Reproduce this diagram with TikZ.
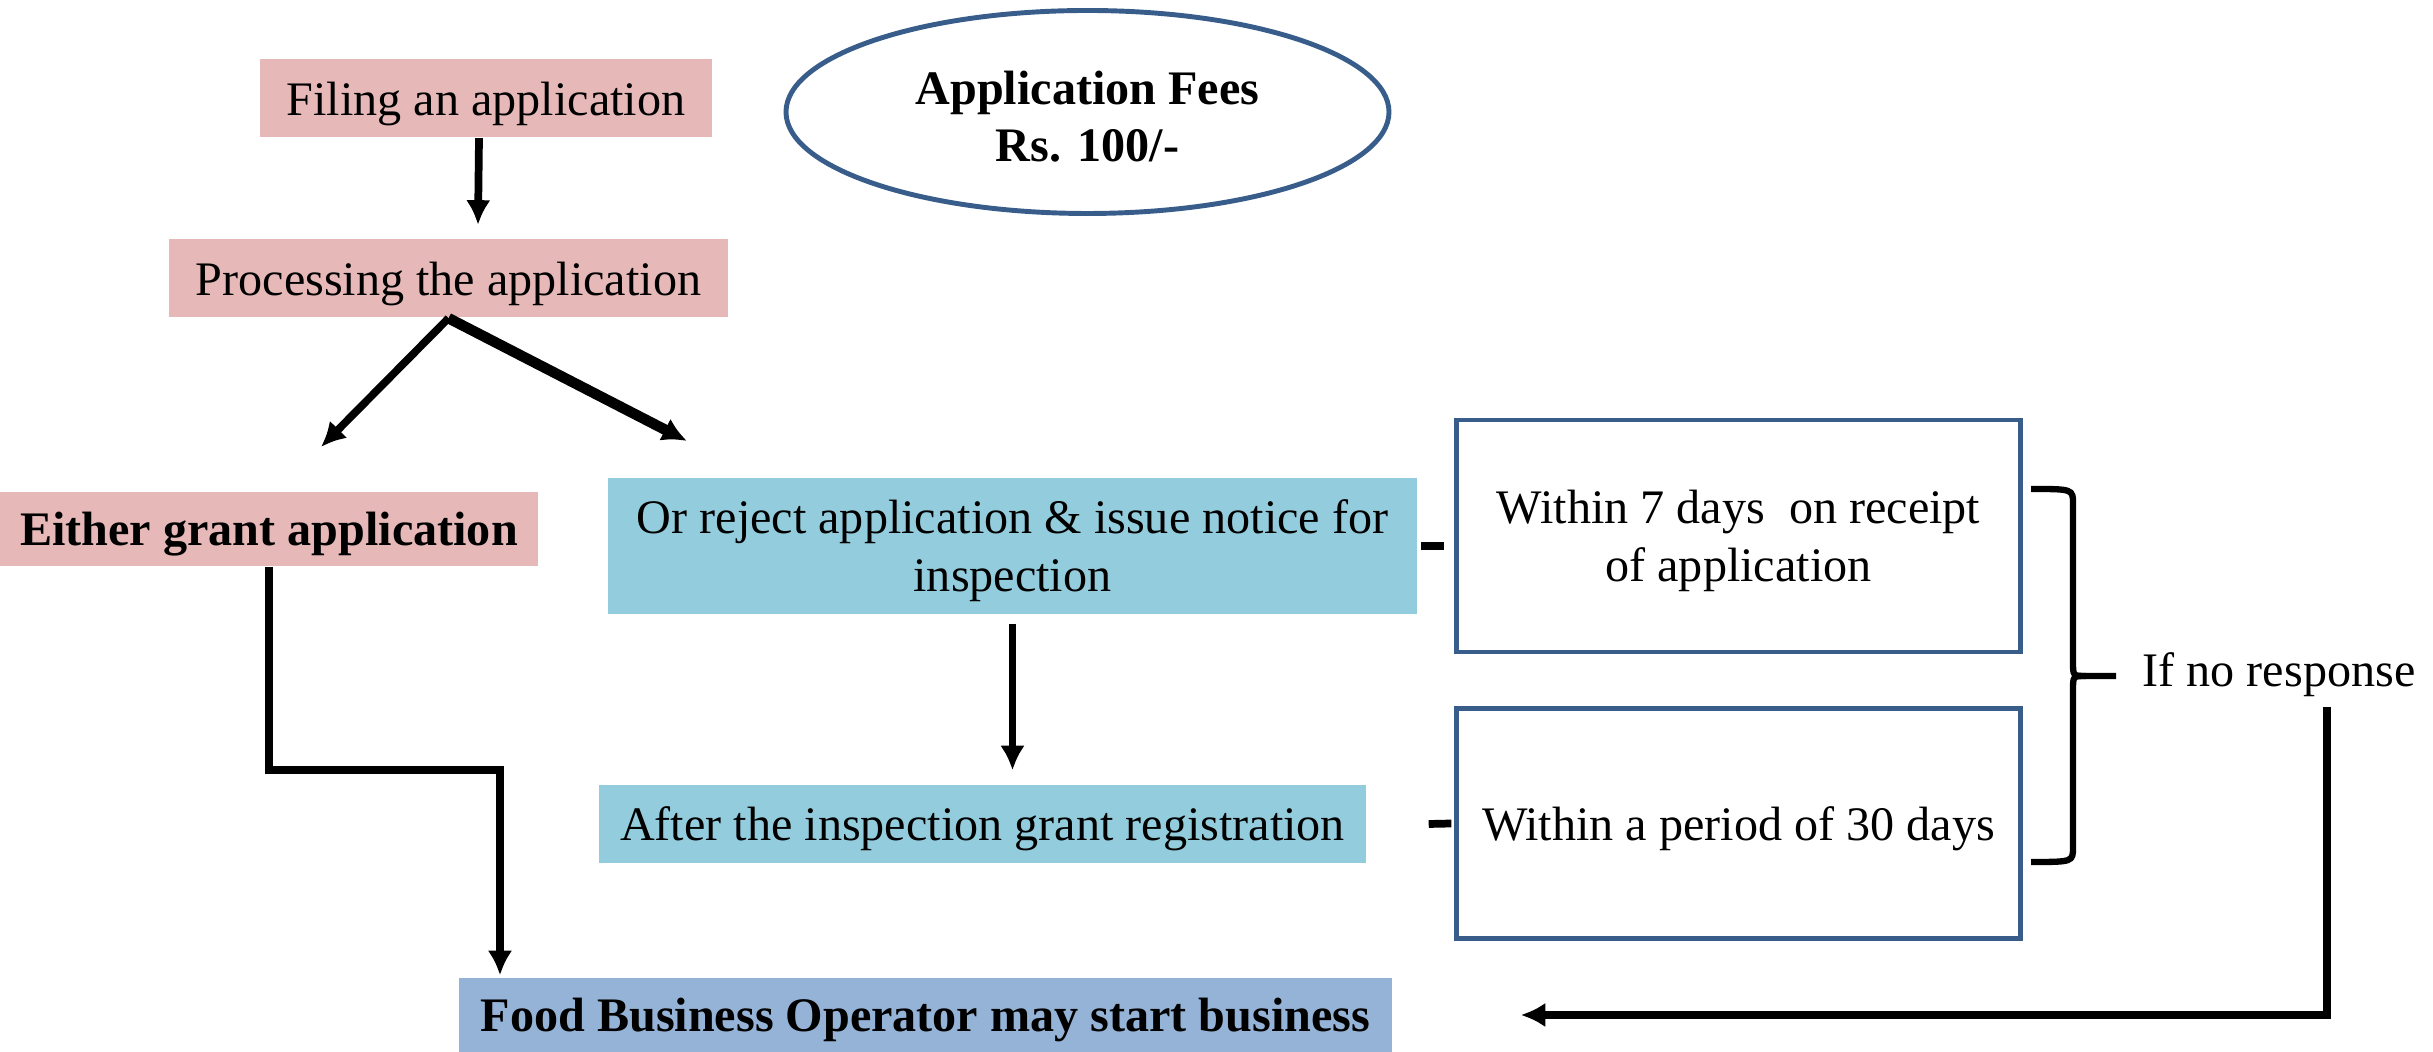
\documentclass[tikz,border=0pt]{standalone}
\usepackage{fontspec}
\setmainfont{Liberation Serif}
\usepackage{tikz}
\usetikzlibrary{arrows,arrows.meta}
\usetikzlibrary{shapes,arrows}
\definecolor{pinkfill}{HTML}{E6B9B8}
\definecolor{tealfill}{HTML}{93CDDD}
\definecolor{bluefill}{HTML}{95B3D7}
\definecolor{edgeblue}{HTML}{385D8A}
\tikzstyle{flow} = [draw, -{Latex[length=7pt,width=7pt]}, line width=2.2pt]
\tikzstyle{tick} = [draw, line width=2.2pt]
\tikzstyle{oneline} = [text height=12.3pt, text depth=2.9pt]
\tikzstyle{pinkbox} = [rectangle, fill=pinkfill, inner sep=0pt]
\tikzstyle{tealbox} = [rectangle, fill=tealfill, inner sep=0pt]
\tikzstyle{foodbox} = [rectangle, fill=bluefill, inner sep=0pt]
\tikzstyle{outbox} = [rectangle, draw=edgeblue, line width=1.2pt, fill=white, inner sep=0pt]
\newcommand{\topstrut}{\rule{0pt}{12.3pt}}

\begin{document}
\begin{tikzpicture}
	\tikzstyle{every node}=[font=\fontsize{13.7}{16.3}\selectfont]
	\useasboundingbox (0,0) rectangle (24.33,-10.52);

	\node[pinkbox, oneline, minimum width=4.52cm, minimum height=0.78cm] (filing) at (4.86,-0.985) {Filing an application};
	\node[ellipse, draw=edgeblue, line width=1.4pt, minimum width=6.03cm, minimum height=2.03cm, align=center] (fees) at (10.875,-1.12) {\topstrut\textbf{Application Fees}\\\textbf{Rs. 100/-}};
	\node[pinkbox, oneline, minimum width=5.59cm, minimum height=0.78cm] (proc) at (4.485,-2.785) {Processing the application};

	\node[pinkbox, oneline, minimum width=5.38cm, minimum height=0.74cm] (grant) at (2.69,-5.29) {\textbf{Either grant application}};
	\node[tealbox, minimum width=8.09cm, minimum height=1.36cm, align=center] (reject) at (10.125,-5.46) {\topstrut Or reject application \& issue notice for\\inspection};
	\node[tealbox, oneline, minimum width=7.67cm, minimum height=0.78cm] (after) at (9.825,-8.24) {After the inspection grant registration};

	\node[outbox, minimum width=5.64cm, minimum height=2.32cm, align=center] (w7) at (17.385,-5.36) {\topstrut Within 7 days\ \ on receipt\\of application};
	\node[outbox, oneline, minimum width=5.64cm, minimum height=2.30cm] (w30) at (17.385,-8.235) {Within a period of 30 days};
	\node (ifno) at (22.79,-6.75) {If no response};

	\node[foodbox, oneline, minimum width=9.33cm, minimum height=0.74cm] (food) at (9.255,-10.15) {\textbf{Food Business Operator may start business}};

	% ------------------- Arrows ------------------- %
	\draw[flow] ([xshift=-0.07cm]filing.south) -- ([xshift=0.295cm,yshift=0.14cm]proc.north);

	\coordinate (tipL) at (3.21,-4.47);
	\coordinate (tipR) at (6.87,-4.41);
	\draw[flow] (proc.south) -- (tipL);
	\draw[flow, line width=3pt] (proc.south) -- (tipR);

	\coordinate (bend) at (5.00,-7.70);
	\draw[flow] (grant.south) |- (bend) -- ([yshift=0.02cm]bend |- food.north);

	\draw[flow] ([yshift=-0.09cm]reject.south) -- ([yshift=0.14cm]reject.south |- after.north);

	\draw[tick] ([xshift=0.03cm]reject.east) -- ([xshift=-0.10cm]reject.east -| w7.west);
	\draw[tick] ([xshift=0.62cm]after.east) -- ([xshift=-0.03cm]w30.west);

	% ------------------- Brace + return arrow ------------------- %
	\draw[line width=1.8pt] (20.31,-4.89) .. controls (20.73,-4.89) .. (20.73,-5.04) -- (20.73,-6.62) .. controls (20.73,-6.76) .. (20.86,-6.76) -- (21.16,-6.76);
	\draw[line width=1.8pt] (20.86,-6.76) .. controls (20.73,-6.76) .. (20.73,-6.90) -- (20.73,-8.47) .. controls (20.73,-8.62) .. (20.31,-8.62);

	\coordinate (ret) at (23.27,-7.07);
	\draw[flow] (ret) |- ([xshift=1.28cm]food.east);
\end{tikzpicture}
\end{document}
